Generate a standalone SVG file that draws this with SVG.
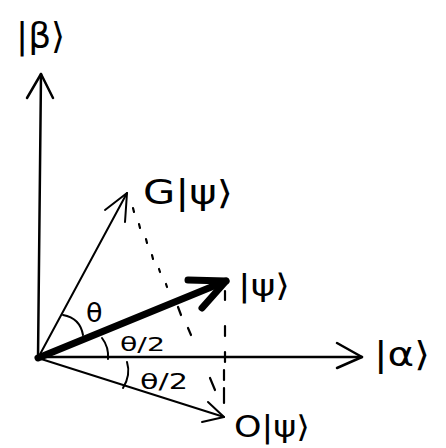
<svg xmlns="http://www.w3.org/2000/svg" width="446" height="448" viewBox="0 0 446 448">
<style>
.ln{fill:none;stroke:#000;stroke-linecap:round;stroke-linejoin:round}
.ax{stroke-width:2.5}
.th{stroke-width:2}
.bold{stroke-width:7}
.dash{stroke-width:2.2}
text{font-family:"DejaVu Sans","Liberation Sans",sans-serif;fill:#000}
</style>
<rect width="446" height="448" fill="#fff"/>
<g id="connectors">
<g id="beta-axis"><path class="ln ax" d="M38 358 L41 74"/><path class="ln ax" d="M27 98 L41 74 L53 98"/></g>
<g id="alpha-axis"><path class="ln ax" d="M38 357 L362 357"/><path class="ln ax" d="M337 343 L362 357 L337 368"/></g>
<g id="g-psi-arrow"><path class="ln th" d="M38 358 L127 193"/><path class="ln th" d="M105 210 L127 193 L125 222"/></g>
<g id="o-psi-arrow"><path class="ln th" d="M38 358 L224 417"/><path class="ln th" d="M208 402 L224 417 L202 422"/></g>
<g id="psi-arrow"><path class="ln bold" d="M38 358 L226 281"/><path class="ln bold" d="M188 280 L226 281 L202 308"/></g>
<g id="dots">
<path class="ln dash" d="M133 208 L134 212 M139 224 L140 228 M146 239 L147 243 M152 255 L153 259 M159 269 L160 272 M166 284 L167 287"/>
<path class="ln dash" d="M178 307 L181 315 M188 328 L191 335 M210 378 L215 390"/>
<path class="ln dash" d="M225 291 L225 300 M225 326 L225 336 M225 352 L225 362 M224 370 L224 380 M224 388 L224 403"/>
</g>
<g id="arcs">
<path class="ln th" d="M63 315 Q80 318 83 335"/>
<path class="ln th" d="M102 338 Q109 347 108 359"/>
<path class="ln th" d="M127 362 Q131 375 123 388"/>
</g>
</g>
<g id="label-beta"><text x="16" y="48" font-size="36">|β⟩</text></g>
<g id="label-alpha"><text x="374" y="366" font-size="34" textLength="56" lengthAdjust="spacingAndGlyphs">|α⟩</text></g>
<g id="label-gpsi"><text x="143" y="204" font-size="33" textLength="90" lengthAdjust="spacingAndGlyphs">G|ψ⟩</text></g>
<g id="label-psi"><text x="238" y="296" font-size="31" textLength="52" lengthAdjust="spacingAndGlyphs">|ψ⟩</text></g>
<g id="label-opsi"><text x="234" y="437" font-size="30" textLength="76" lengthAdjust="spacingAndGlyphs">O|ψ⟩</text></g>
<g id="label-theta"><text x="86" y="322" font-size="27">θ</text></g>
<g id="label-half1"><text x="120" y="351" font-size="20" textLength="45" lengthAdjust="spacingAndGlyphs">θ/2</text></g>
<g id="label-half2"><text x="140" y="389" font-size="22" textLength="48" lengthAdjust="spacingAndGlyphs">θ/2</text></g>
</svg>
